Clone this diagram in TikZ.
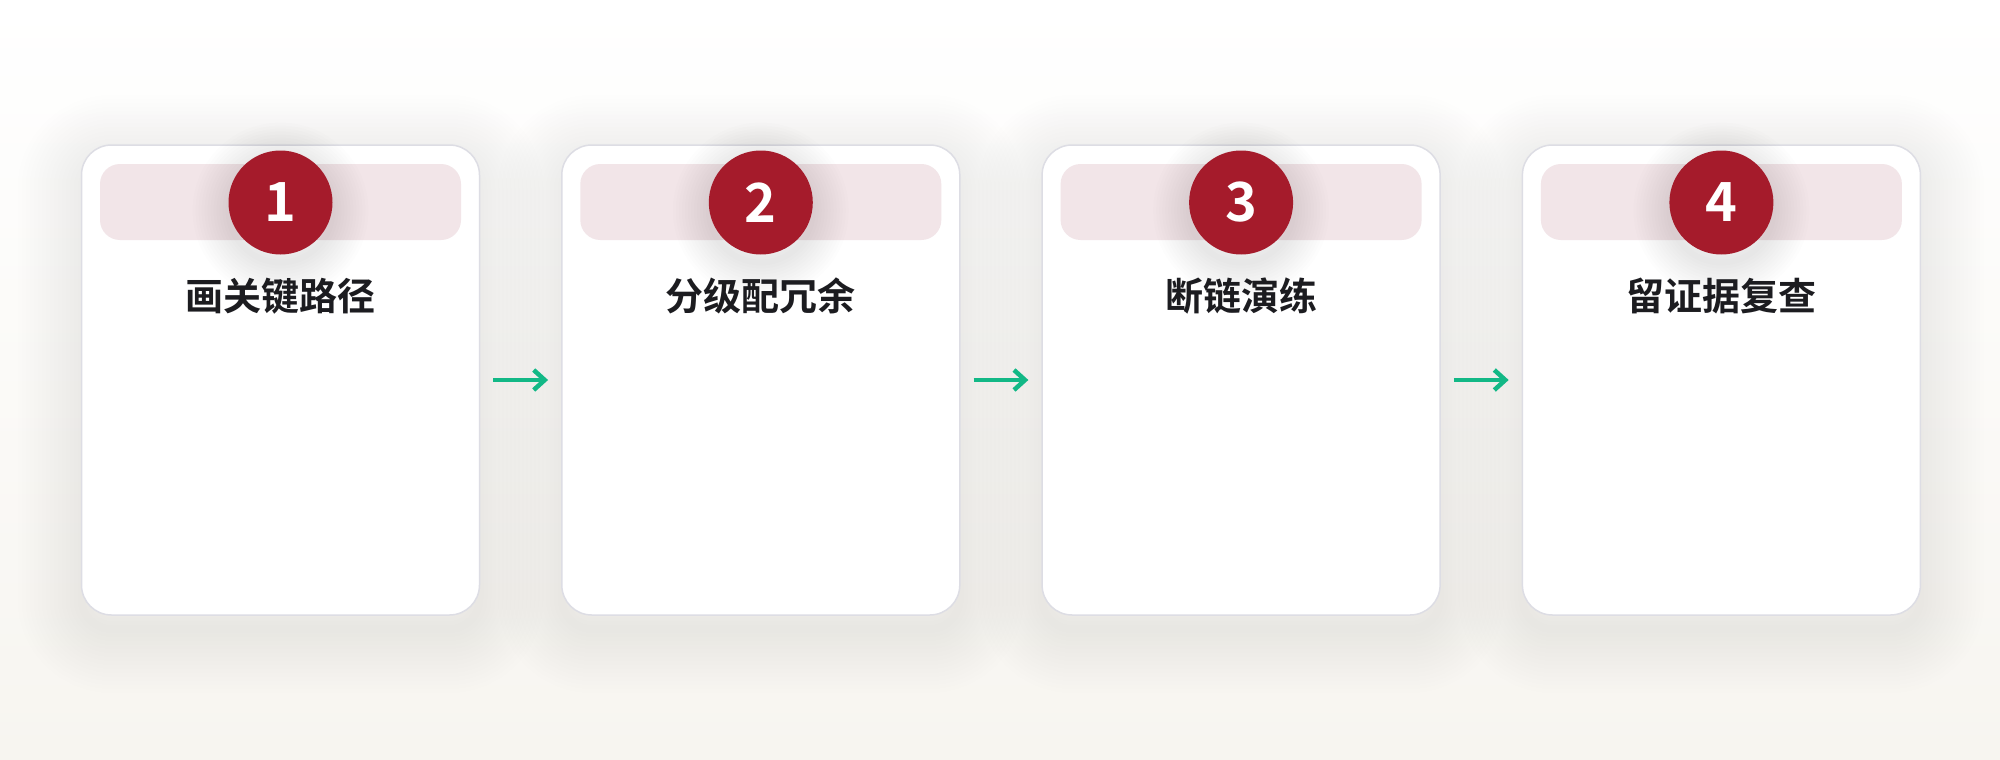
\documentclass[tikz,border=0pt]{standalone}
\usepackage{fontspec}
\newfontfamily\cjk{Noto Sans CJK SC}[BoldFont={Noto Sans CJK SC Bold}]
\usetikzlibrary{arrows.meta}

\definecolor{cardline}{HTML}{DDDDE4}
\definecolor{bandpink}{HTML}{F2E5E8}
\definecolor{badgered}{HTML}{A51B2B}
\definecolor{flowgreen}{HTML}{12B886}
\definecolor{titleink}{HTML}{1C1C20}
\definecolor{bgbottom}{HTML}{F7F5F0}

% soft shadows: faint thick strokes, shifted down
\tikzset{
  haze/.style={preaction={draw=black, draw opacity=0.005, line width=#1,
    transform canvas={yshift=-14pt}}},
  lift/.style={haze=128pt, haze=120pt, haze=112pt, haze=104pt, haze=96pt, haze=88pt,
    haze=80pt, haze=72pt, haze=64pt, haze=56pt, haze=48pt, haze=40pt, haze=32pt,
    haze=24pt, haze=16pt, haze=8pt},
  glow/.style={preaction={draw=black, draw opacity=0.008, line width=#1,
    transform canvas={yshift=-8pt}}},
  sink/.style={glow=72pt, glow=66pt, glow=60pt, glow=54pt, glow=48pt, glow=42pt,
    glow=36pt, glow=30pt, glow=24pt, glow=18pt, glow=12pt, glow=6pt}
}

\begin{document}
\begin{tikzpicture}[x=1pt,y=-1pt,
  card/.style={lift, draw=cardline, line width=1.5pt, fill=white, rounded corners=30pt,
    minimum width=398pt, minimum height=470pt, inner sep=0pt},
  band/.style={fill=bandpink, rounded corners=20pt, minimum width=361pt,
    minimum height=76pt, inner sep=0pt},
  badge/.style={sink, circle, fill=badgered, minimum size=104pt, inner sep=0pt, text=white,
    font=\cjk\bfseries\fontsize{54}{54}\selectfont},
  title/.style={text=titleink, inner sep=0pt, font=\cjk\bfseries\fontsize{38}{38}\selectfont},
  flow/.style={draw=flowgreen, line width=4.5pt, shorten <=13pt, shorten >=13pt,
    -{Straight Barb[length=11pt,width=20pt]}}]

  % page and background
  \useasboundingbox (0,0) rectangle (2000,760);
  \shade[top color=white, bottom color=bgbottom] (0,0) rectangle (2000,760);

  % cards
  \node [card] (c1) at (280.5,380) {};
  \node [card] (c2) at (760.8,380) {};
  \node [card] (c3) at (1241.1,380) {};
  \node [card] (c4) at (1721.4,380) {};

  \node [band] (b1) at (280.5,202) {};
  \node [band] (b2) at (760.8,202) {};
  \node [band] (b3) at (1241.1,202) {};
  \node [band] (b4) at (1721.4,202) {};

  \node [badge] (n1) at (280.5,202.5) {1};
  \node [badge] (n2) at (760.8,202.5) {2};
  \node [badge] (n3) at (1241.1,202.5) {3};
  \node [badge] (n4) at (1721.4,202.5) {4};

  \node [title] (t1) at (280.5,296) {画关键路径};
  \node [title] (t2) at (760.8,296) {分级配冗余};
  \node [title] (t3) at (1241.1,296) {断链演练};
  \node [title] (t4) at (1721.4,296) {留证据复查};

  % steps
  \draw [flow] (c1) -- (c2);
  \draw [flow] (c2) -- (c3);
  \draw [flow] (c3) -- (c4);
\end{tikzpicture}
\end{document}
